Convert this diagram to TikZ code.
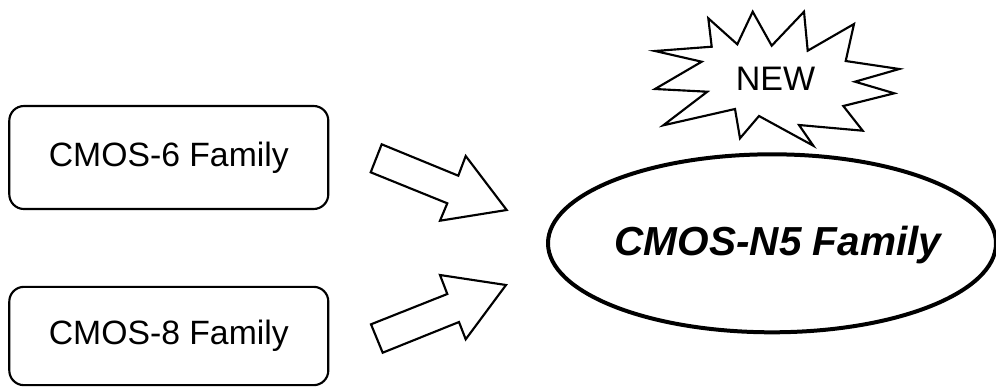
\documentclass[tikz,border=0pt]{standalone}
\usepackage{fontspec}
\setmainfont{Liberation Sans}
\usetikzlibrary{shapes.geometric}
\begin{document}
\begin{tikzpicture}[x=0.75pt,y=-0.75pt,
  famblock/.style={draw=black, line width=1.6pt, rounded corners=11pt, fill=white, inner sep=0pt,
    minimum width=239.25pt, font=\fontsize{25.3pt}{30pt}\selectfont},
  blockarrow/.style={draw=black, line width=1.6pt, fill=white, line join=miter},
  burst/.style={draw=black, line width=1.6pt, fill=white, line join=miter}]
\useasboundingbox (0,0) rectangle (996,387);
% source families
\node[famblock, minimum height=77.25pt] (b6) at (168.8,157.5) {CMOS-6 Family};
\node[famblock, minimum height=73.75pt] (b8) at (168.8,336) {CMOS-8 Family};
% target family
\node[draw=black, line width=3pt, ellipse, fill=white, inner sep=0pt,
  minimum width=336pt, minimum height=133.5pt] (n5) at (772,243.3) {};
\node[font=\fontsize{30.4pt}{36pt}\selectfont\bfseries\itshape] (n5t) at (778,245) {CMOS-N5 Family};
% block arrows
\coordinate (a1) at (381.7,144.3);
\draw[blockarrow] (a1) -- (458.3,175.7) -- (465.7,156) -- (506.7,210) -- (440,220.7)
  -- (447.3,203.3) -- (370.7,172.3) -- cycle;
\coordinate (a2) at (382.7,352.7);
\draw[blockarrow] (a2) -- (459,322) -- (465.7,339.3) -- (506,285) -- (440,275)
  -- (447.3,294) -- (371,324.3) -- cycle;
% starburst
\draw[burst] (708.3,18.3) -- (737.3,44.3) -- (752.7,11.7) -- (771.7,45.7) -- (804,11.7)
  -- (807.7,50.7) -- (854,24) -- (845.7,61) -- (899.3,69) -- (855,81.7) -- (894.3,93.3)
  -- (843.3,106) -- (862.7,130.7) -- (799,125) -- (813.3,145.7) -- (759,116)
  -- (740,138.3) -- (735,109) -- (663.3,125.3) -- (707.3,91.7) -- (655,89)
  -- (701.7,61.7) -- (655,51) -- (711.7,46.7) -- cycle;
\node[font=\fontsize{25.5pt}{30pt}\selectfont] (new) at (775.5,79) {NEW};
\end{tikzpicture}
\end{document}
